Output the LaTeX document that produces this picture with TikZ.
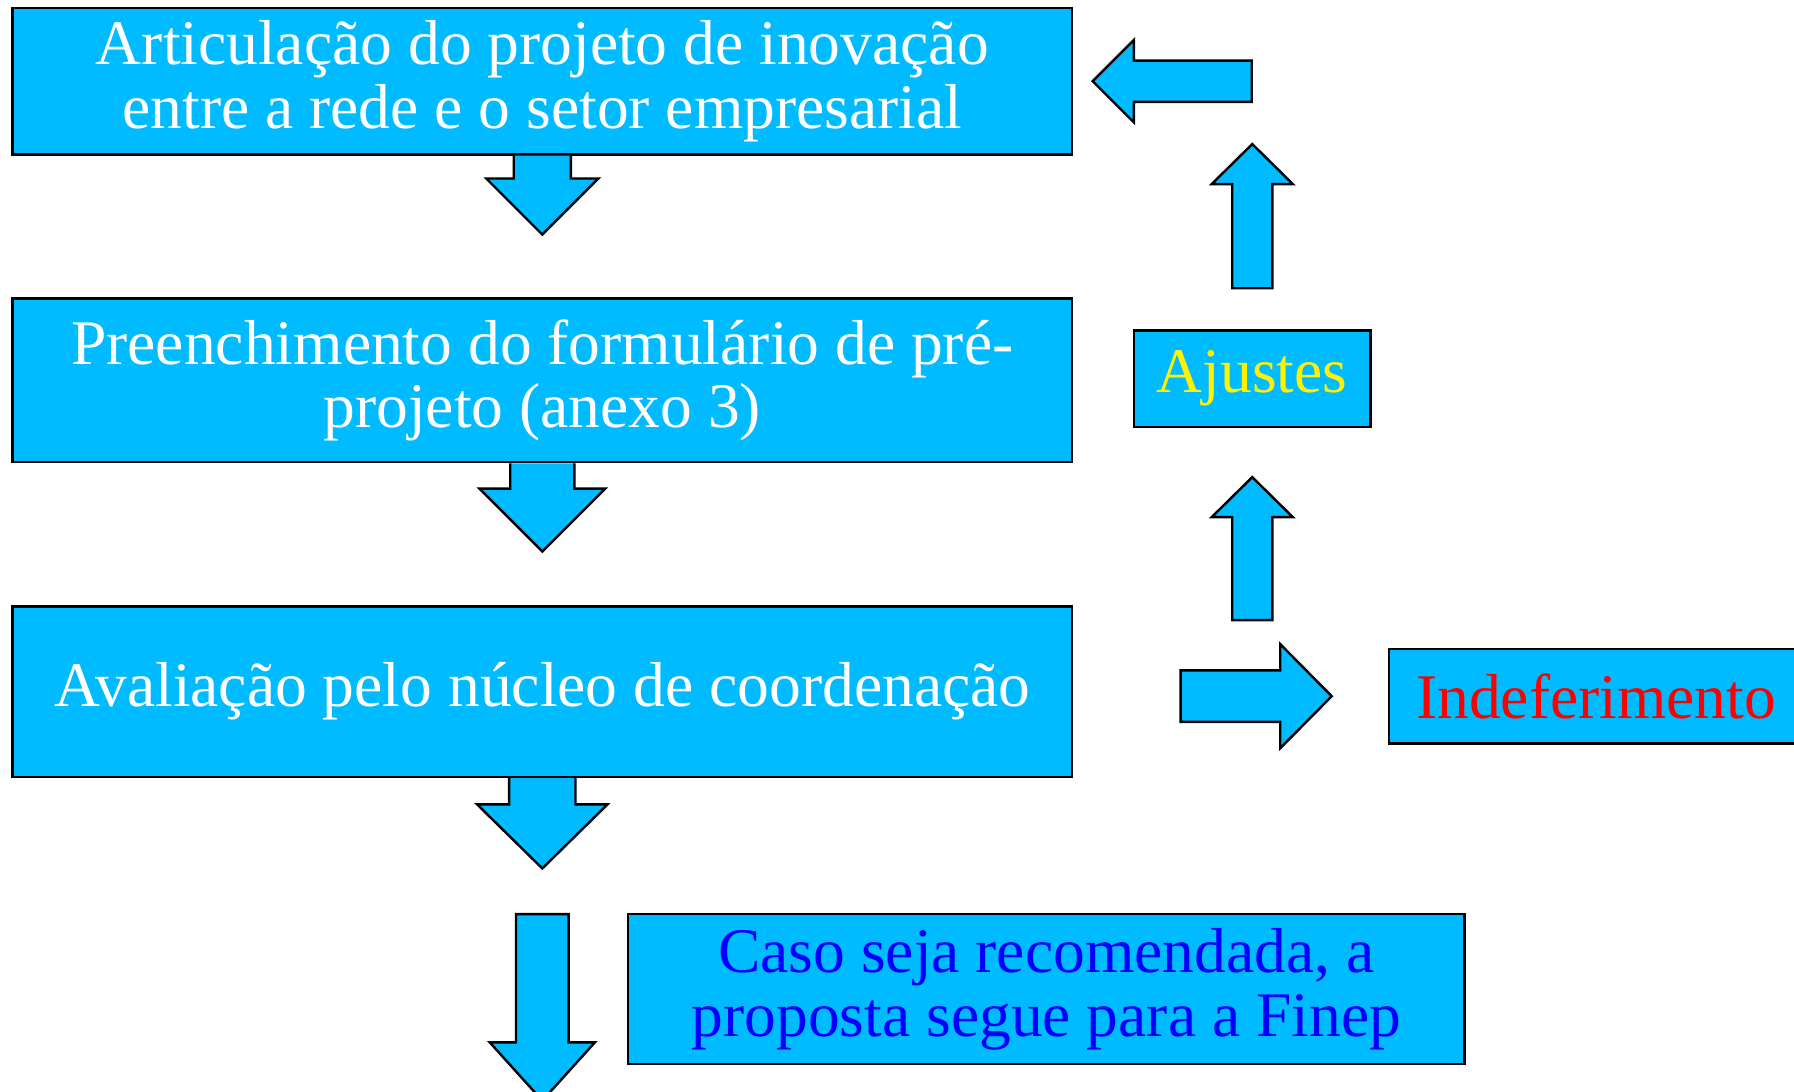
\documentclass[tikz,border=0pt]{standalone}
\usepackage{fontspec}
\setmainfont{Liberation Serif}
\definecolor{boxblue}{RGB}{0,187,255}
\begin{document}
\begin{tikzpicture}
\newlength{\mysh}
\setlength{\mysh}{0.25cm}

\tikzset{
  box_s/.style = {align=center, inner sep=0pt, text centered, rectangle,
    fill=boxblue, draw=black, line width=0.6pt,
    font=\fontsize{15.8}{15.8}\selectfont},
  arr_s/.style = {fill=boxblue, draw=black, line width=0.6pt, line join=miter}
}
\useasboundingbox (0,0) rectangle (15.68,-9.54);

\node [box_s, text=white, minimum width=9.26cm, minimum height=1.28cm] (art) at (4.74,-0.71)
  {Articulação do projeto de inovação\\entre a rede e o setor empresarial};
\node [box_s, text=white, minimum width=9.26cm, minimum height=1.43cm] (pre) at (4.74,-3.325)
  {Preenchimento do formulário de pré-\\projeto (anexo 3)};
\node [box_s, text=white, minimum width=9.26cm, minimum height=1.49cm] (ava) at (4.74,-6.045)
  {Avaliação pelo núcleo de coordenação};
\node [box_s, text=blue, minimum width=7.31cm, minimum height=1.31cm] (caso) at (9.145,-8.645)
  {Caso seja recomendada, a\\proposta segue para a Finep};
\node [box_s, text=yellow, minimum width=2.07cm, minimum height=0.84cm] (aju) at (10.945,-3.31)
  {Ajustes};
\node [box_s, text=red, minimum width=3.62cm, minimum height=0.83cm] (ind) at (13.95,-6.085)
  {Indeferimento};
\coordinate (fim) at (4.74,-7.99);

% setas para baixo
\filldraw [arr_s, shift={(art.south)}] (-\mysh,0) -- (-\mysh,-0.20) -- (-0.49,-0.20)
  -- (0,-0.69) -- (0.49,-0.20) -- (\mysh,-0.20) -- (\mysh,0);
\filldraw [arr_s, shift={(pre.south)}] (-0.28,0) -- (-0.28,-0.22) -- (-0.55,-0.22)
  -- (0,-0.77) -- (0.55,-0.22) -- (0.28,-0.22) -- (0.28,0);
\filldraw [arr_s, shift={(ava.south)}] (-0.29,0) -- (-0.29,-0.23) -- (-0.57,-0.23)
  -- (0,-0.79) -- (0.57,-0.23) -- (0.29,-0.23) -- (0.29,0);
\filldraw [arr_s, shift={(fim)}] (-0.23,0) -- (-0.23,-1.12) -- (-0.46,-1.12)
  -- (0,-1.63) -- (0.46,-1.12) -- (0.23,-1.12) -- (0.23,0) -- cycle;

% desvio
\filldraw [arr_s, shift={(ind.west)}] (-1.81,0.225) -- (-0.94,0.225) -- (-0.94,0.455)
  -- (-0.49,0) -- (-0.94,-0.455) -- (-0.94,-0.225) -- (-1.81,-0.225) -- cycle;
\filldraw [arr_s, shift={(aju.south)}] (-0.175,-1.68) -- (-0.175,-0.78) -- (-0.355,-0.78)
  -- (0,-0.43) -- (0.355,-0.78) -- (0.175,-0.78) -- (0.175,-1.68) -- cycle;
\filldraw [arr_s, shift={(aju.north)}] (-0.175,0.36) -- (-0.175,1.27) -- (-0.355,1.27)
  -- (0,1.62) -- (0.355,1.27) -- (0.175,1.27) -- (0.175,0.36) -- cycle;
\filldraw [arr_s, shift={(art.east)}] (1.56,0.18) -- (0.53,0.18) -- (0.53,0.36)
  -- (0.17,0) -- (0.53,-0.36) -- (0.53,-0.18) -- (1.56,-0.18) -- cycle;

\end{tikzpicture}
\end{document}
